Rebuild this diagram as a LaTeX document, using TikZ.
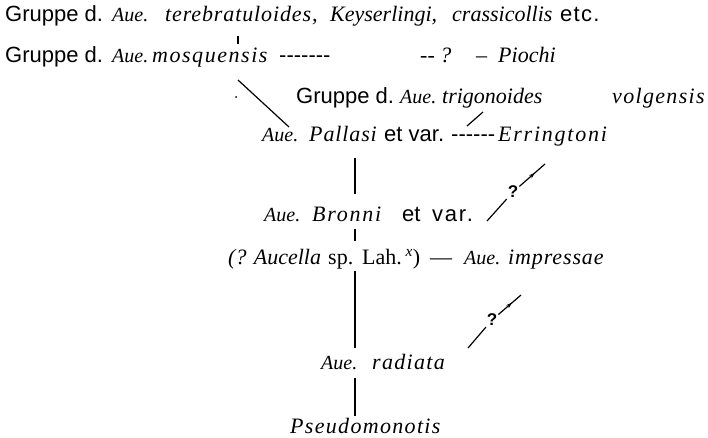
\documentclass[tikz,border=0pt]{standalone}
\usepackage{fontspec}
\setmainfont{Liberation Serif}
\setsansfont{Liberation Sans}
\usetikzlibrary{arrows.meta,decorations.markings}
\newcommand{\Aue}{{\fontsize{20}{24}\selectfont\itshape Aue.}}
\tikzset{
  w/.style={anchor=base west, inner sep=0pt, font=\fontsize{22}{26}\selectfont},
  it/.style={w, font=\fontsize{22}{26}\selectfont\itshape\addfontfeature{LetterSpace=#1}},
  it/.default=0,
  sf/.style={w, font=\fontsize{22}{26}\selectfont\sffamily\addfontfeature{LetterSpace=#1}},
  sf/.default=0,
  ln/.style={line width=1.2pt},
  qm/.style={inner sep=1pt, font=\fontsize{17}{20}\selectfont\sffamily\bfseries},
  midarrow/.style={postaction={decorate}, decoration={markings, mark=at position 0.6 with {\arrow{Stealth[length=6pt,width=4pt]}}}}
}
\begin{document}
\begin{tikzpicture}[x=1pt,y=-1pt]
\useasboundingbox (0,0) rectangle (708,438);
% line 1
\node[sf] (g1) at (5,22) {Gruppe d.};
\node[w] (a1) at (112,22) {\Aue};
\node[it=4] (t1) at (165,22) {terebratuloides,};
\node[it] (k1) at (330,22) {Keyserlingi,};
\node[it] (c1) at (452,22) {crassicollis};
\node[sf=6] (e1) at (560,22) {etc.};
\coordinate (tk1a) at (238,36);
\coordinate (tk1b) at (238,44);
\draw[ln] (tk1a) -- (tk1b);
% line 2
\node[sf] (g2) at (5,63) {Gruppe d.};
\node[w] (a2) at (112,63) {\Aue};
\node[it=7] (m2) at (152,63) {mosquensis};
\node[sf] (d2) at (279,63) {-{}-{}-{}-{}-{}-{}-};
\node[it] (q2) at (420,63) {-{}- ?};
\node[w] (n2) at (476,63) {–};
\node[it] (p2) at (498,63) {Piochi};
% line 3
\node[circle, fill, inner sep=0pt, minimum size=2pt] (dot3) at (236,97) {};
\coordinate (dg1) at (238,80);
\coordinate (dg2) at (289,127);
\draw[ln] (dg1) -- (dg2);
\node[sf] (g3) at (296,104) {Gruppe d.};
\node[w] (a3) at (400,104) {\Aue};
\node[it] (tr3) at (442,104) {trigonoides};
\node[it=6] (v3) at (612,104) {volgensis};
\coordinate (sl1) at (467,126);
\coordinate (sl2) at (483,112);
\draw[ln] (sl1) -- (sl2);
% line 4
\node[w] (a4) at (262,142) {\Aue};
\node[it=4] (p4) at (309,142) {Pallasi};
\node[sf] (ev4) at (384,142) {et var.};
\node[sf] (d4) at (451,142) {-{}-{}-{}-{}-{}-};
\node[it=8] (er4) at (498,142) {Erringtoni};
\coordinate (v1a) at (355,158);
\coordinate (v1b) at (355,194);
\draw[ln] (v1a) -- (v1b);
% arrow 1
\coordinate (ar1a) at (487,221);
\coordinate (ar1b) at (545,164);
\node[qm] (qa1) at (513,192) {?};
\draw[ln] (ar1a) -- (qa1);
\draw[ln, midarrow] (qa1) -- (ar1b);
% line 5
\node[w] (a5) at (264,222) {\Aue};
\node[it=8] (b5) at (312,222) {Bronni};
\node[sf] (et5) at (402,222) {et};
\node[sf=8] (var5) at (432,222) {var.};
\coordinate (tk2a) at (355,229);
\coordinate (tk2b) at (355,241);
\draw[ln] (tk2a) -- (tk2b);
% line 6
\node[it] (au6) at (228,264) {(? Aucella};
\node[w] (sp6) at (328,264) {sp.};
\node[w] (lah6) at (362,264) {Lah.\,\textsuperscript{\itshape x})};
\node[w] (dash6) at (430,264) {—};
\node[w] (ai6) at (464,264) {\Aue};
\node[it=4] (im6) at (508,264) {impressae};
\coordinate (v2a) at (355,271);
\coordinate (v2b) at (355,348);
\draw[ln] (v2a) -- (v2b);
% arrow 2
\coordinate (ar2a) at (468,348);
\coordinate (ar2b) at (521,295);
\node[qm] (qa2) at (492,320) {?};
\draw[ln] (ar2a) -- (qa2);
\draw[ln, midarrow] (qa2) -- (ar2b);
% line 7
\node[w] (a7) at (321,369) {\Aue};
\node[it=6] (r7) at (372,369) {radiata};
\coordinate (v3a) at (355,378);
\coordinate (v3b) at (355,416);
\draw[ln] (v3a) -- (v3b);
% line 8
\node[it=6] (ps8) at (290,433) {Pseudomonotis};
\end{tikzpicture}
\end{document}
